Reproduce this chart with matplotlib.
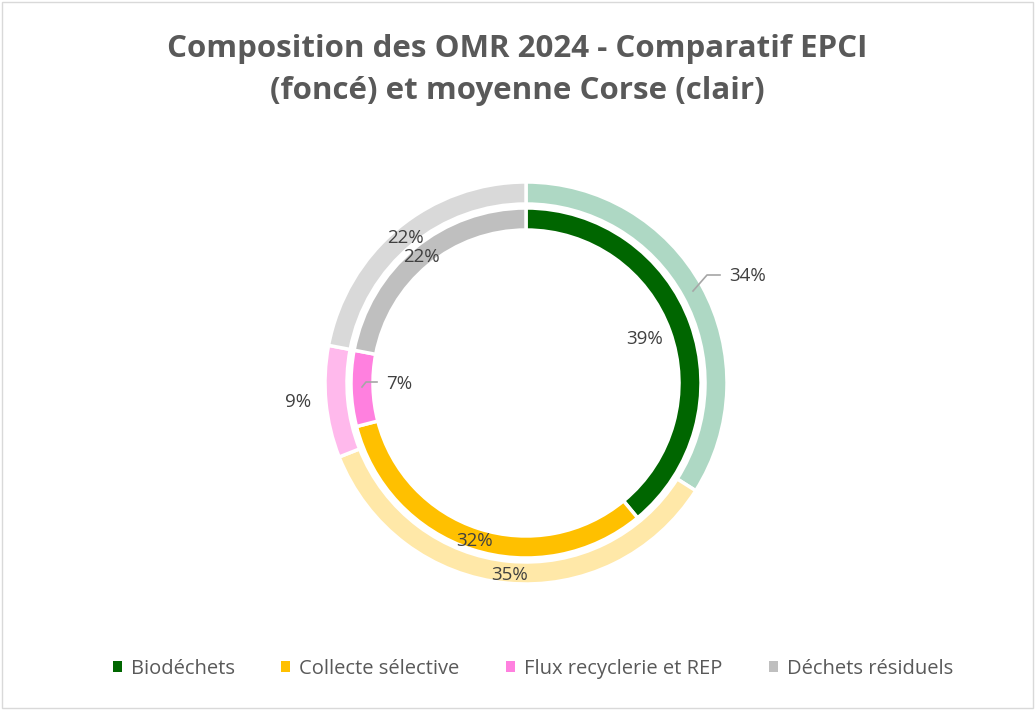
import matplotlib.pyplot as plt
from matplotlib.patches import Patch, Rectangle

# data
categories = ["Biodéchets", "Collecte sélective", "Flux recyclerie et REP", "Déchets résiduels"]
epci = [39, 32, 7, 22]        # inner ring (foncé)
corse = [34, 35, 9, 22]       # outer ring (clair)
title = "Composition des OMR 2024 - Comparatif EPCI\n(foncé) et moyenne Corse (clair)"

dark_colors = ["#006600", "#FFC000", "#FF80DF", "#BFBFBF"]
light_colors = ["#AED8C4", "#FFE8A8", "#FFB9EC", "#D9D9D9"]

# label positions (data units, outer radius = 1)
inner_pos = [(0.592, 0.219), (-0.254, -0.786), (-0.632, -0.005), (-0.522, 0.627)]
outer_pos = [(1.104, 0.532), (-0.080, -0.955), (-1.134, -0.095), (-0.602, 0.721)]

plt.rcParams["font.family"] = ["Open Sans", "DejaVu Sans"]

fig = plt.figure(figsize=(10.35, 7.1), dpi=100)
W, H = 1035, 710
cx, cy, R = 526, 383, 201
half = 250
ax = fig.add_axes([(cx - half) / W, (H - cy - half) / H, 2 * half / W, 2 * half / H])
lim = half / R
ax.set_aspect("equal")
ax.axis("off")

w = 22 / R
ax.pie(corse, radius=1.0, colors=light_colors, startangle=90, counterclock=False,
       wedgeprops=dict(width=w, edgecolor="white", linewidth=2.5))
ax.pie(epci, radius=175 / R, colors=dark_colors, startangle=90, counterclock=False,
       wedgeprops=dict(width=w, edgecolor="white", linewidth=2.5))
ax.set_xlim(-lim, lim)
ax.set_ylim(-lim, lim)

lab_col = "#404040"
for v, (x, y) in zip(epci, inner_pos):
    ax.text(x, y, f"{v}%", ha="center", va="center", fontsize=13.5, color=lab_col)
for v, (x, y) in zip(corse, outer_pos):
    ax.text(x, y, f"{v}%", ha="center", va="center", fontsize=13.5, color=lab_col)

# leader lines
def px(p):
    return ((p[0] - cx) / R, (cy - p[1]) / R)

for pts in [[(693, 291), (707, 275), (720, 275)], [(362, 387), (366, 382), (377, 382)]]:
    xs, ys = zip(*[px(p) for p in pts])
    ax.plot(xs, ys, color="#A6A6A6", lw=1.2)

fig.text(0.5, 1 - 70 / H, title, ha="center", va="center", fontsize=22.5,
         fontweight="bold", color="#595959", linespacing=1.55)

handles = [Patch(facecolor=c, edgecolor="none") for c in dark_colors]
fig.legend(handles, categories, loc="center", bbox_to_anchor=(0.515, 1 - 669 / H),
           ncol=4, frameon=False, fontsize=14.5, handlelength=0.45, handleheight=0.45,
           handletextpad=0.45, columnspacing=2.3, labelcolor="#595959")

fig.patches.append(Rectangle((2 / W, 2 / H), 1 - 4 / W, 1 - 4 / H, transform=fig.transFigure,
                             fill=False, edgecolor="#D9D9D9", lw=1))

fig.savefig("out.png", dpi=100)
